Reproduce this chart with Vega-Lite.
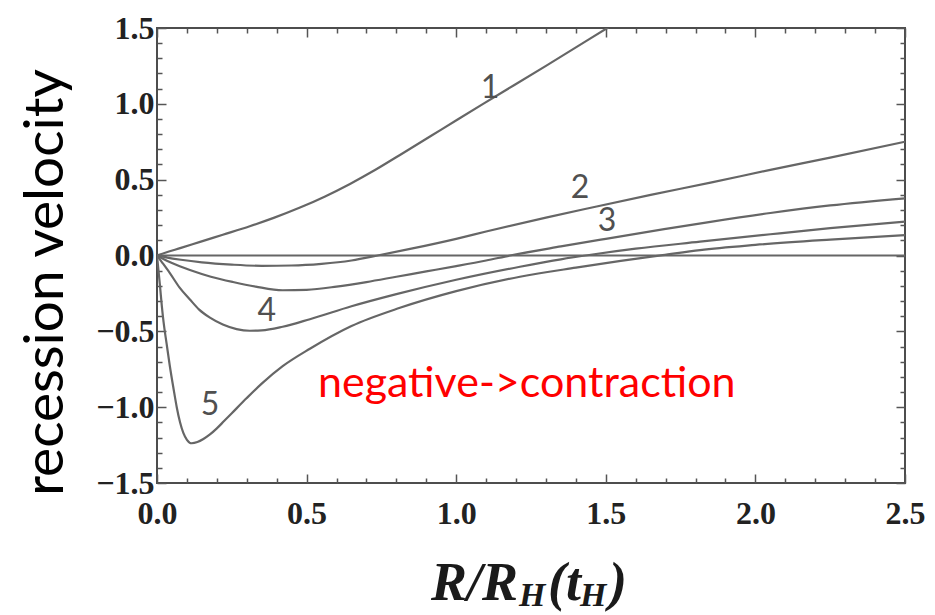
{
  "$schema": "https://vega.github.io/schema/vega-lite/v6.json",
  "width": 748,
  "height": 455,
  "autosize": "none",
  "padding": {"left": 157, "top": 28, "right": 30, "bottom": 132},
  "background": "white",
  "config": {"view": {"stroke": "#4d4d4d", "strokeWidth": 2}},
  "datasets": {
    "curves": [
      {"curve": "0", "R": 0, "v": 0}, {"curve": "0", "R": 2.5, "v": 0},

      {"curve": "1", "R": 0, "v": 0}, {"curve": "1", "R": 0.03, "v": 0.02}, {"curve": "1", "R": 0.08, "v": 0.05},
      {"curve": "1", "R": 0.144, "v": 0.09}, {"curve": "1", "R": 0.22, "v": 0.137}, {"curve": "1", "R": 0.31, "v": 0.193},
      {"curve": "1", "R": 0.39, "v": 0.248}, {"curve": "1", "R": 0.478, "v": 0.316}, {"curve": "1", "R": 0.56, "v": 0.388},
      {"curve": "1", "R": 0.645, "v": 0.472}, {"curve": "1", "R": 0.73, "v": 0.565}, {"curve": "1", "R": 0.812, "v": 0.663},
      {"curve": "1", "R": 0.95, "v": 0.83}, {"curve": "1", "R": 1.09, "v": 1.0}, {"curve": "1", "R": 1.3, "v": 1.25},
      {"curve": "1", "R": 1.505, "v": 1.5}, {"curve": "1", "R": 1.55, "v": 1.555},

      {"curve": "2", "R": 0, "v": 0}, {"curve": "2", "R": 0.03, "v": -0.012}, {"curve": "2", "R": 0.08, "v": -0.028},
      {"curve": "2", "R": 0.15, "v": -0.045}, {"curve": "2", "R": 0.25, "v": -0.06}, {"curve": "2", "R": 0.35, "v": -0.068},
      {"curve": "2", "R": 0.45, "v": -0.066}, {"curve": "2", "R": 0.55, "v": -0.055}, {"curve": "2", "R": 0.65, "v": -0.033},
      {"curve": "2", "R": 0.745, "v": 0.003}, {"curve": "2", "R": 0.85, "v": 0.045}, {"curve": "2", "R": 1.0, "v": 0.11},
      {"curve": "2", "R": 1.1, "v": 0.158}, {"curve": "2", "R": 1.3, "v": 0.25}, {"curve": "2", "R": 1.45, "v": 0.315},
      {"curve": "2", "R": 1.65, "v": 0.4}, {"curve": "2", "R": 1.85, "v": 0.48}, {"curve": "2", "R": 2.05, "v": 0.565},
      {"curve": "2", "R": 2.25, "v": 0.645}, {"curve": "2", "R": 2.5, "v": 0.75},

      {"curve": "3", "R": 0, "v": 0}, {"curve": "3", "R": 0.02, "v": -0.022}, {"curve": "3", "R": 0.05, "v": -0.05},
      {"curve": "3", "R": 0.11, "v": -0.096}, {"curve": "3", "R": 0.18, "v": -0.14}, {"curve": "3", "R": 0.254, "v": -0.175},
      {"curve": "3", "R": 0.33, "v": -0.205}, {"curve": "3", "R": 0.42, "v": -0.229}, {"curve": "3", "R": 0.5, "v": -0.226},
      {"curve": "3", "R": 0.6, "v": -0.205}, {"curve": "3", "R": 0.7, "v": -0.175}, {"curve": "3", "R": 0.8, "v": -0.14},
      {"curve": "3", "R": 0.9, "v": -0.105}, {"curve": "3", "R": 1.0, "v": -0.07}, {"curve": "3", "R": 1.1, "v": -0.033},
      {"curve": "3", "R": 1.18, "v": 0}, {"curve": "3", "R": 1.35, "v": 0.06}, {"curve": "3", "R": 1.5, "v": 0.11},
      {"curve": "3", "R": 1.7, "v": 0.175}, {"curve": "3", "R": 1.85, "v": 0.222}, {"curve": "3", "R": 2.05, "v": 0.28},
      {"curve": "3", "R": 2.25, "v": 0.33}, {"curve": "3", "R": 2.5, "v": 0.377},

      {"curve": "4", "R": 0, "v": 0}, {"curve": "4", "R": 0.015, "v": -0.04}, {"curve": "4", "R": 0.043, "v": -0.116},
      {"curve": "4", "R": 0.075, "v": -0.21}, {"curve": "4", "R": 0.11, "v": -0.29}, {"curve": "4", "R": 0.14, "v": -0.355},
      {"curve": "4", "R": 0.177, "v": -0.41}, {"curve": "4", "R": 0.22, "v": -0.455}, {"curve": "4", "R": 0.266, "v": -0.485},
      {"curve": "4", "R": 0.31, "v": -0.496}, {"curve": "4", "R": 0.35, "v": -0.494}, {"curve": "4", "R": 0.42, "v": -0.47},
      {"curve": "4", "R": 0.511, "v": -0.42}, {"curve": "4", "R": 0.65, "v": -0.335}, {"curve": "4", "R": 0.8, "v": -0.255},
      {"curve": "4", "R": 1.0, "v": -0.16}, {"curve": "4", "R": 1.213, "v": -0.074}, {"curve": "4", "R": 1.35, "v": -0.025},
      {"curve": "4", "R": 1.45, "v": 0.005}, {"curve": "4", "R": 1.6, "v": 0.045}, {"curve": "4", "R": 1.815, "v": 0.091},
      {"curve": "4", "R": 2.05, "v": 0.14}, {"curve": "4", "R": 2.25, "v": 0.18}, {"curve": "4", "R": 2.5, "v": 0.223},

      {"curve": "5", "R": 0, "v": 0}, {"curve": "5", "R": 0.005, "v": -0.1}, {"curve": "5", "R": 0.01, "v": -0.2},
      {"curve": "5", "R": 0.016, "v": -0.33}, {"curve": "5", "R": 0.022, "v": -0.44}, {"curve": "5", "R": 0.032, "v": -0.58},
      {"curve": "5", "R": 0.043, "v": -0.73}, {"curve": "5", "R": 0.055, "v": -0.875}, {"curve": "5", "R": 0.066, "v": -1.0},
      {"curve": "5", "R": 0.077, "v": -1.1}, {"curve": "5", "R": 0.088, "v": -1.17}, {"curve": "5", "R": 0.1, "v": -1.215},
      {"curve": "5", "R": 0.116, "v": -1.238}, {"curve": "5", "R": 0.135, "v": -1.23}, {"curve": "5", "R": 0.155, "v": -1.21},
      {"curve": "5", "R": 0.177, "v": -1.18}, {"curve": "5", "R": 0.2, "v": -1.14}, {"curve": "5", "R": 0.225, "v": -1.09},
      {"curve": "5", "R": 0.25, "v": -1.04}, {"curve": "5", "R": 0.3, "v": -0.94}, {"curve": "5", "R": 0.35, "v": -0.845},
      {"curve": "5", "R": 0.42, "v": -0.73}, {"curve": "5", "R": 0.511, "v": -0.615}, {"curve": "5", "R": 0.65, "v": -0.465},
      {"curve": "5", "R": 0.812, "v": -0.345}, {"curve": "5", "R": 1.0, "v": -0.235}, {"curve": "5", "R": 1.213, "v": -0.14},
      {"curve": "5", "R": 1.4, "v": -0.08}, {"curve": "5", "R": 1.55, "v": -0.036}, {"curve": "5", "R": 1.69, "v": 0.002},
      {"curve": "5", "R": 1.815, "v": 0.036}, {"curve": "5", "R": 2.0, "v": 0.07}, {"curve": "5", "R": 2.25, "v": 0.105},
      {"curve": "5", "R": 2.5, "v": 0.135}
    ],
    "labels": [
      {"label": "1", "x": 1.113, "y": 1.104},
      {"label": "2", "x": 1.414, "y": 0.445},
      {"label": "3", "x": 1.504, "y": 0.227},
      {"label": "4", "x": 0.367, "y": -0.366},
      {"label": "5", "x": 0.177, "y": -0.986}
    ],
    "single": [{}]
  },
  "layer": [
    {
      "data": {"name": "curves"},
      "mark": {"type": "line", "interpolate": "monotone", "clip": true, "color": "#666666", "strokeWidth": 2.2},
      "encoding": {
        "x": {
          "field": "R", "type": "quantitative",
          "scale": {"domain": [0, 2.5], "nice": false, "zero": false},
          "axis": {
            "orient": "bottom", "title": null, "domain": false, "grid": false,
            "values": [0, 0.1, 0.2, 0.3, 0.4, 0.5, 0.6, 0.7, 0.8, 0.9, 1, 1.1, 1.2, 1.3, 1.4, 1.5, 1.6, 1.7, 1.8, 1.9, 2, 2.1, 2.2, 2.3, 2.4, 2.5],
            "tickSize": {"condition": {"test": "abs(datum.value*2 - round(datum.value*2)) < 0.001", "value": -9}, "value": -5},
            "tickColor": "#555555", "tickWidth": 1.5,
            "labelExpr": "abs(datum.value*2 - round(datum.value*2)) < 0.001 ? format(datum.value, '.1f') : ''",
            "labelFont": "Liberation Serif", "labelFontWeight": "bold", "labelFontSize": 32, "labelColor": "#222222",
            "labelPadding": 24, "labelFlush": false, "labelOverlap": false
          }
        },
        "y": {
          "field": "v", "type": "quantitative",
          "scale": {"domain": [-1.5, 1.5], "nice": false, "zero": false},
          "axis": {
            "orient": "left", "domain": false, "grid": false,
            "values": [-1.5, -1.4, -1.3, -1.2, -1.1, -1, -0.9, -0.8, -0.7, -0.6, -0.5, -0.4, -0.3, -0.2, -0.1, 0, 0.1, 0.2, 0.3, 0.4, 0.5, 0.6, 0.7, 0.8, 0.9, 1, 1.1, 1.2, 1.3, 1.4, 1.5],
            "tickSize": {"condition": {"test": "abs(datum.value*2 - round(datum.value*2)) < 0.001", "value": -9}, "value": -5},
            "tickColor": "#555555", "tickWidth": 1.5,
            "labelExpr": "abs(datum.value*2 - round(datum.value*2)) < 0.001 ? replace(format(datum.value, '.1f'), '-', '\u2013') : ''",
            "labelFont": "Liberation Serif", "labelFontWeight": "bold", "labelFontSize": 32, "labelColor": "#222222",
            "labelPadding": 12, "labelFlush": false, "labelOverlap": false,
            "title": "recession velocity", "titleFont": "Lato", "titleFontSize": 55, "titleFontWeight": "normal",
            "titleColor": "#000000", "titleAngle": 270, "titleAlign": "center", "titleBaseline": "alphabetic",
            "titleX": -95, "titleY": 254
          }
        },
        "detail": {"field": "curve"}
      }
    },
    {
      "data": {"name": "labels"},
      "mark": {"type": "text", "font": "Lato", "fontSize": 32, "color": "#505050", "align": "center", "baseline": "middle"},
      "encoding": {
        "x": {
          "field": "x", "type": "quantitative",
          "axis": {
            "orient": "top", "title": null, "domain": false, "grid": false, "labels": false,
            "values": [0, 0.1, 0.2, 0.3, 0.4, 0.5, 0.6, 0.7, 0.8, 0.9, 1, 1.1, 1.2, 1.3, 1.4, 1.5, 1.6, 1.7, 1.8, 1.9, 2, 2.1, 2.2, 2.3, 2.4, 2.5],
            "tickSize": {"condition": {"test": "abs(datum.value*2 - round(datum.value*2)) < 0.001", "value": -9}, "value": -5},
            "tickColor": "#555555", "tickWidth": 1.5
          }
        },
        "y": {
          "field": "y", "type": "quantitative",
          "axis": {
            "orient": "right", "title": null, "domain": false, "grid": false, "labels": false,
            "values": [-1.5, -1.4, -1.3, -1.2, -1.1, -1, -0.9, -0.8, -0.7, -0.6, -0.5, -0.4, -0.3, -0.2, -0.1, 0, 0.1, 0.2, 0.3, 0.4, 0.5, 0.6, 0.7, 0.8, 0.9, 1, 1.1, 1.2, 1.3, 1.4, 1.5],
            "tickSize": {"condition": {"test": "abs(datum.value*2 - round(datum.value*2)) < 0.001", "value": -9}, "value": -5},
            "tickColor": "#555555", "tickWidth": 1.5
          }
        },
        "text": {"field": "label"}
      }
    },
    {
      "data": {"name": "single"},
      "mark": {"type": "text", "text": "negative->contraction", "font": "Lato", "fontSize": 43, "color": "#ff0000", "align": "left", "baseline": "alphabetic"},
      "encoding": {
        "x": {"datum": 0.538, "type": "quantitative", "axis": null},
        "y": {"datum": -0.933, "type": "quantitative", "axis": null}
      }
    },
    {
      "data": {"name": "single"},
      "mark": {"type": "text", "text": "R/R", "font": "Liberation Serif", "fontSize": 54, "fontWeight": "bold", "fontStyle": "italic", "color": "#1a1a1a", "align": "left", "baseline": "alphabetic"},
      "encoding": {
        "x": {"datum": 0.9158, "type": "quantitative", "axis": null},
        "y": {"datum": -2.271, "type": "quantitative", "axis": null}
      }
    },
    {
      "data": {"name": "single"},
      "mark": {"type": "text", "text": "H", "font": "Liberation Serif", "fontSize": 34, "fontWeight": "bold", "fontStyle": "italic", "color": "#1a1a1a", "align": "left", "baseline": "alphabetic"},
      "encoding": {
        "x": {"datum": 1.2099, "type": "quantitative", "axis": null},
        "y": {"datum": -2.311, "type": "quantitative", "axis": null}
      }
    },
    {
      "data": {"name": "single"},
      "mark": {"type": "text", "text": "(t", "font": "Liberation Serif", "fontSize": 54, "fontWeight": "bold", "fontStyle": "italic", "color": "#1a1a1a", "align": "left", "baseline": "alphabetic"},
      "encoding": {
        "x": {"datum": 1.3068, "type": "quantitative", "axis": null},
        "y": {"datum": -2.271, "type": "quantitative", "axis": null}
      }
    },
    {
      "data": {"name": "single"},
      "mark": {"type": "text", "text": "H", "font": "Liberation Serif", "fontSize": 34, "fontWeight": "bold", "fontStyle": "italic", "color": "#1a1a1a", "align": "left", "baseline": "alphabetic"},
      "encoding": {
        "x": {"datum": 1.4137, "type": "quantitative", "axis": null},
        "y": {"datum": -2.311, "type": "quantitative", "axis": null}
      }
    },
    {
      "data": {"name": "single"},
      "mark": {"type": "text", "text": ")", "font": "Liberation Serif", "fontSize": 54, "fontWeight": "bold", "fontStyle": "italic", "color": "#1a1a1a", "align": "left", "baseline": "alphabetic"},
      "encoding": {
        "x": {"datum": 1.5107, "type": "quantitative", "axis": null},
        "y": {"datum": -2.271, "type": "quantitative", "axis": null}
      }
    }
  ],
  "resolve": {"axis": {"x": "independent", "y": "independent"}}
}
